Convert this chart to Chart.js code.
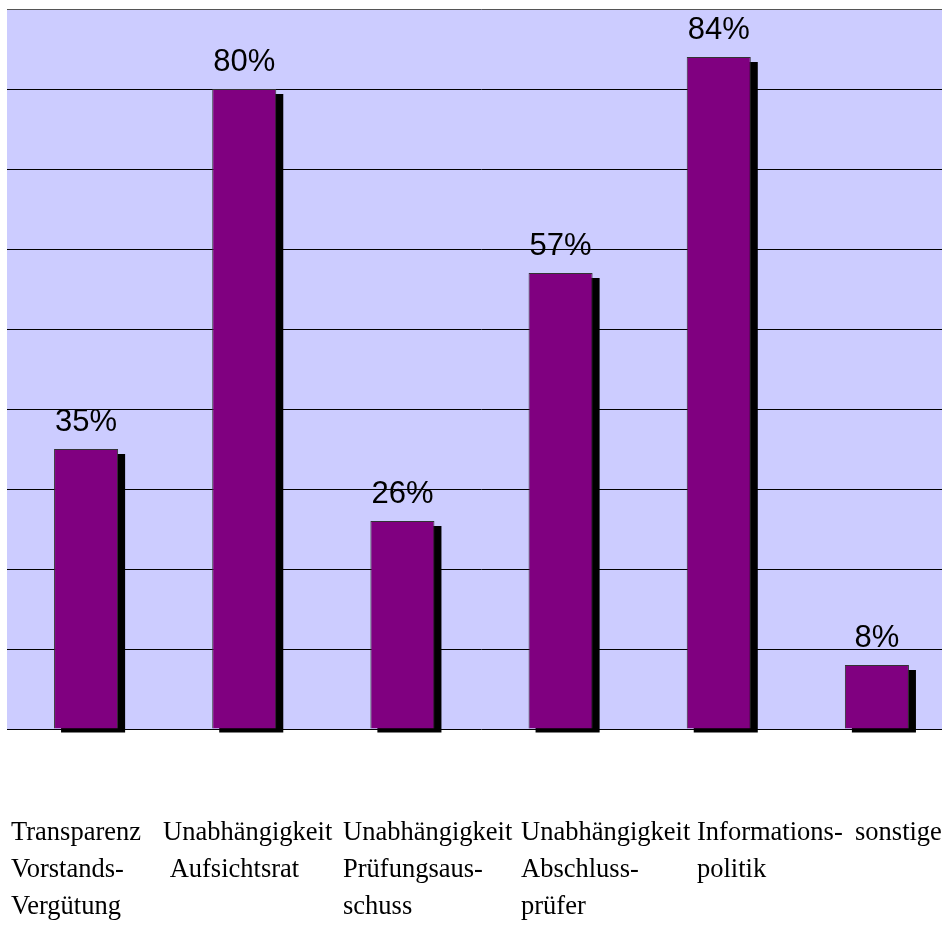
<!DOCTYPE html>
<html>
<head>
<meta charset="utf-8">
<script src="https://cdn.jsdelivr.net/npm/chart.js@4.4.1/dist/chart.umd.min.js"></script>
<style>
  html, body { margin: 0; padding: 0; background: #fff; overflow: hidden; }
  #Cnvs { display: block; }
</style>
</head>
<body>
<canvas id="Cnvs" width="956" height="938"></canvas>
<script>
// data
var categories = ['Transparenz Vorstands-Vergütung', 'Unabhängigkeit Aufsichtsrat', 'Unabhängigkeit Prüfungsausschuss',
                  'Unabhängigkeit Abschlussprüfer', 'Informationspolitik', 'sonstige'];
var labelLines = [
  ['Transparenz', 'Vorstands-', 'Vergütung'],
  ['Unabhängigkeit', ' Aufsichtsrat'],
  ['Unabhängigkeit', 'Prüfungsaus-', 'schuss'],
  ['Unabhängigkeit', 'Abschluss-', 'prüfer'],
  ['Informations-', 'politik'],
  ['sonstige']
];
var values = [35, 80, 26, 57, 84, 8];
var valueLabels = ['35%', '80%', '26%', '57%', '84%', '8%'];

// layout of the text table under the chart (left edges of each column)
var labelLeft = [11, 163, 343, 521, 697, 855];
var labelBaseline = [840, 877, 914];

var chartBg = {
  id: 'chartBg',
  beforeDraw: function(chart) {
    var a = chart.chartArea, ctx = chart.ctx;
    ctx.save();
    ctx.fillStyle = '#CCCCFF';
    ctx.fillRect(a.left, a.top, a.right - a.left, a.bottom - a.top);
    ctx.restore();
  }
};

var barShadow = {
  id: 'barShadow',
  beforeDatasetsDraw: function(chart) {
    var ctx = chart.ctx;
    ctx.save();
    ctx.fillStyle = '#000';
    chart.getDatasetMeta(0).data.forEach(function(bar) {
      var w = bar.width;
      ctx.fillRect(bar.x - w / 2 + 7, bar.y + 5, w, bar.base - bar.y - 1);
    });
    ctx.restore();
  }
};

var valueText = {
  id: 'valueText',
  afterDatasetsDraw: function(chart) {
    var ctx = chart.ctx;
    ctx.save();
    ctx.fillStyle = '#000';
    ctx.font = '31px "Liberation Sans", Arial, sans-serif';
    ctx.textAlign = 'center';
    ctx.textBaseline = 'alphabetic';
    chart.getDatasetMeta(0).data.forEach(function(bar, i) {
      ctx.fillText(valueLabels[i], bar.x, bar.y - 18);
    });
    ctx.restore();
  }
};

var catText = {
  id: 'catText',
  afterDraw: function(chart) {
    var ctx = chart.ctx;
    ctx.save();
    ctx.fillStyle = '#000';
    ctx.font = '26.5px "Liberation Serif", "Times New Roman", serif';
    ctx.textAlign = 'left';
    ctx.textBaseline = 'alphabetic';
    labelLines.forEach(function(lines, i) {
      lines.forEach(function(line, j) {
        ctx.fillText(line, labelLeft[i], labelBaseline[j]);
      });
    });
    ctx.restore();
  }
};

var Cnvs = document.getElementById('Cnvs');
var barChart = new Chart(Cnvs, {
  type: 'bar',
  data: {
    labels: categories,
    datasets: [{
      data: values,
      backgroundColor: '#800080',
      borderColor: '#333',
      borderWidth: 1,
      barPercentage: 0.405,
      categoryPercentage: 1
    }]
  },
  options: {
    responsive: false,
    animation: false,
    layout: { padding: { left: 7, right: 0, top: 9, bottom: 209 } },
    plugins: { legend: { display: false }, tooltip: { enabled: false } },
    scales: {
      x: { display: false },
      y: {
        min: 0, max: 90,
        ticks: { display: false, stepSize: 10 },
        border: { display: false },
        grid: {
          drawTicks: false,
          lineWidth: 1,
          color: function(c) { return c.tick && c.tick.value === 90 ? '#555' : '#000'; }
        }
      }
    }
  },
  plugins: [chartBg, barShadow, valueText, catText]
});
</script>
</body>
</html>
